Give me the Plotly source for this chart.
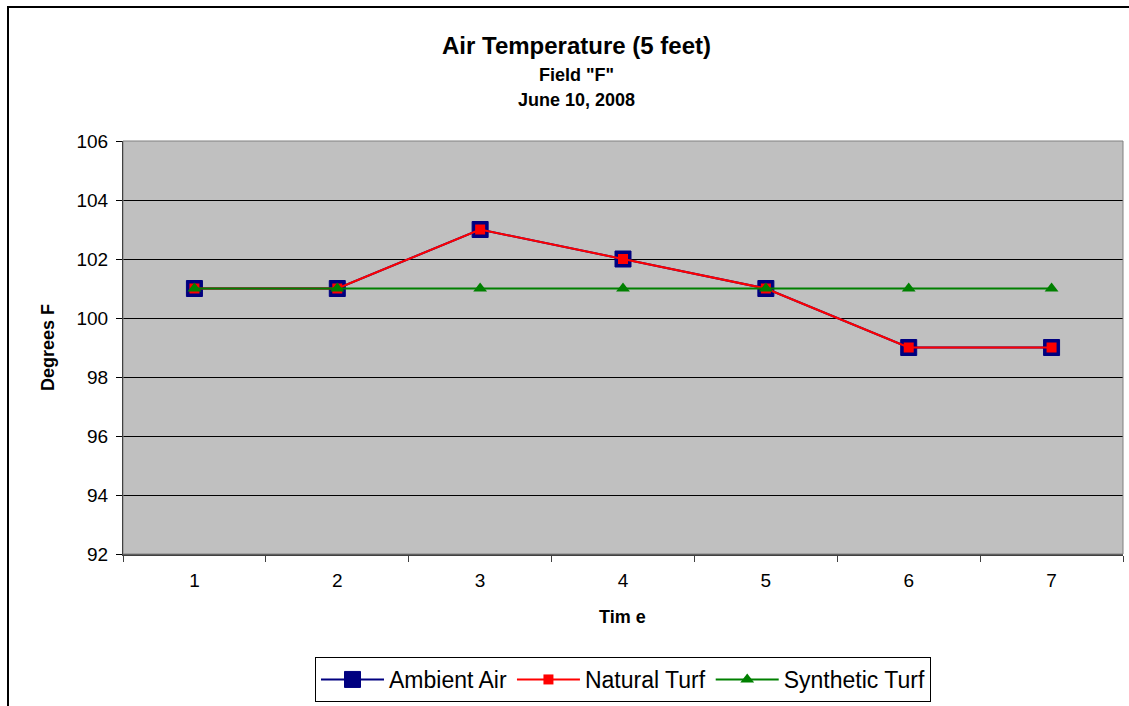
import plotly.graph_objects as go

# Readings taken at 5 feet, Field "F", June 10, 2008
time_points = ["1", "2", "3", "4", "5", "6", "7"]
ambient_air = [101, 101, 103, 102, 101, 99, 99]
natural_turf = [101, 101, 103, 102, 101, 99, 99]
synthetic_turf = [101, 101, 101, 101, 101, 101, 101]
y_ticks = [92, 94, 96, 98, 100, 102, 104, 106]

FONT = "Liberation Sans, Arial, sans-serif"

fig = go.Figure()
fig.add_trace(go.Scatter(
    x=time_points, y=ambient_air, name="Ambient Air", mode="lines+markers",
    line=dict(color="#000080", width=2),
    marker=dict(symbol="square", size=16, color="#000080",
                line=dict(color="#000080", width=1)),
))
fig.add_trace(go.Scatter(
    x=time_points, y=natural_turf, name="Natural Turf", mode="lines+markers",
    line=dict(color="#FF0000", width=2),
    marker=dict(symbol="square", size=10, color="#FF0000"),
))
fig.add_trace(go.Scatter(
    x=time_points, y=synthetic_turf, name="Synthetic Turf", mode="lines+markers",
    line=dict(color="#008000", width=2),
    marker=dict(symbol="triangle-up", size=12, color="#008000"),
))

L, R, T, B = 123, 6, 141, 152
W, H = 1129, 706
pw, ph = W - L - R, H - T - B


def px_x(x):
    return (x - L) / pw


def px_y(y):
    return (H - B - y) / ph


annotations = [
    dict(text="<b>Air Temperature (5 feet)</b>", x=px_x(576), y=px_y(45),
         font=dict(size=24, color="black")),
    dict(text="<b>Field \"F\"</b>", x=px_x(576), y=px_y(75),
         font=dict(size=18, color="black")),
    dict(text="<b>June 10, 2008</b>", x=px_x(576), y=px_y(100),
         font=dict(size=18, color="black")),
    dict(text="<b>Degrees F</b>", x=px_x(48), y=px_y(348), textangle=-90,
         font=dict(size=18, color="black")),
    dict(text="<b>Tim e</b>", x=px_x(622), y=px_y(617),
         font=dict(size=18, color="black")),
]
for a in annotations:
    a.update(xref="paper", yref="paper", showarrow=False,
             xanchor="center", yanchor="middle")

fig.update_layout(
    width=W, height=H,
    margin=dict(l=L, r=R, t=T, b=B, autoexpand=False),
    paper_bgcolor="white",
    plot_bgcolor="#C0C0C0",
    font=dict(family=FONT, color="black"),
    showlegend=True,
    legend=dict(
        orientation="h", x=0.5, xanchor="center", y=px_y(657), yanchor="top",
        bordercolor="black", borderwidth=1, bgcolor="white",
        font=dict(size=23, color="black"), itemwidth=63,
    ),
    annotations=annotations,
    shapes=[
        # plot area frame
        dict(type="rect", xref="paper", yref="paper", x0=0, x1=1, y0=0, y1=1,
             line=dict(color="#808080", width=1), layer="above"),
        # outer chart frame
        dict(type="rect", xref="paper", yref="paper",
             x0=px_x(8), x1=px_x(1140), y0=px_y(720), y1=px_y(7),
             line=dict(color="black", width=2)),
    ],
)

fig.update_xaxes(
    type="category", range=[-0.5, 6.5],
    tickson="boundaries", ticks="outside", ticklen=6, tickcolor="#404040",
    showline=True, linecolor="#404040", linewidth=2,
    showgrid=False, tickfont=dict(size=19, color="black"),
    ticklabelstandoff=8,
)
fig.update_yaxes(
    range=[92, 106], tickvals=y_ticks,
    ticks="outside", ticklen=6, tickcolor="black",
    showline=True, linecolor="black", linewidth=1,
    showgrid=True, gridcolor="black", gridwidth=1,
    zeroline=False, tickfont=dict(size=19, color="black"),
    ticklabelstandoff=4,
)

fig.write_html("out.html")
